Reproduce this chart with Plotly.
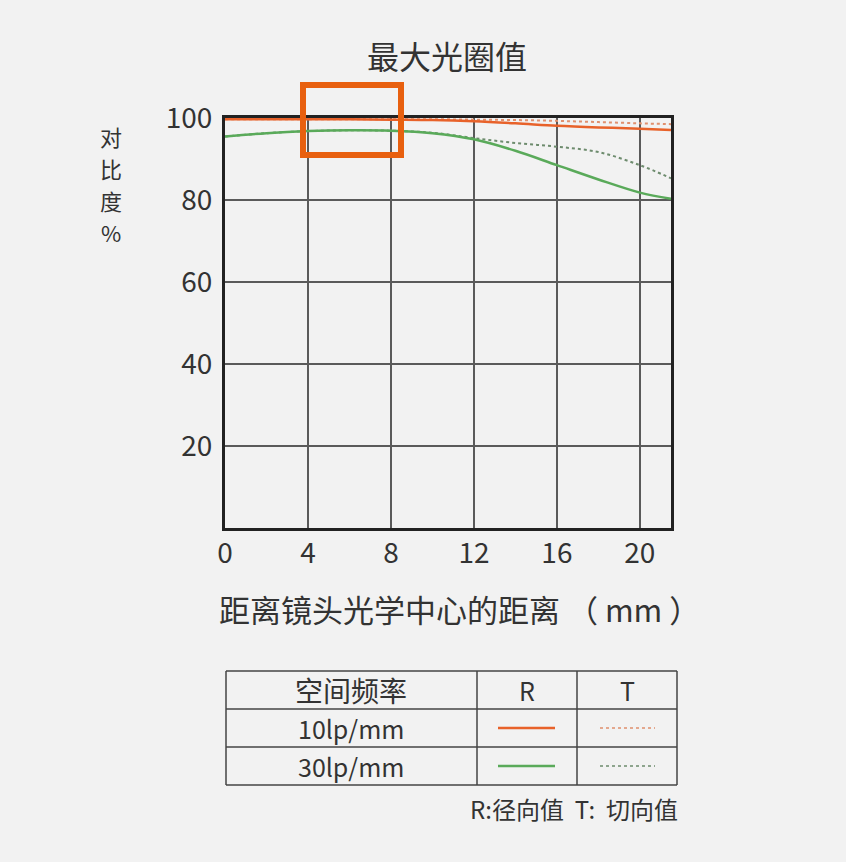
import plotly.graph_objects as go

# ---- data ----
radius_mm = [0, 2, 4, 6, 8, 10, 12, 14, 16, 18, 20, 21.5]
r10 = [99.7, 99.7, 99.7, 99.7, 99.6, 99.5, 99.2, 98.7, 98.1, 97.7, 97.4, 97.1]
t10 = [99.7, 99.7, 99.7, 99.7, 99.7, 99.7, 99.6, 99.5, 99.3, 99.0, 98.7, 98.5]
r30 = [95.5, 96.3, 96.8, 97.0, 96.9, 96.3, 94.8, 92.0, 88.5, 85.0, 81.8, 80.3]
t30 = [95.5, 96.3, 96.8, 97.0, 96.9, 96.4, 95.1, 93.9, 93.0, 91.7, 88.5, 85.3]

x_ticks = [0, 4, 8, 12, 16, 20]
y_ticks = [20, 40, 60, 80, 100]

title_text = "最大光圈值"
x_title = "距离镜头光学中心的距离 （ mm ）"
y_title_chars = ["对", "比", "度", "%"]
legend_header = ["空间频率", "R", "T"]
legend_rows = ["10lp/mm", "30lp/mm"]
legend_note = "R:径向值  T:  切向值"

ORANGE = "#e8622a"
ORANGE_DOT = "#e0906e"
GREEN = "#5aaa5a"
GREEN_DOT = "#6e8c6e"
BG = "#f2f2f2"
TXT = "#333333"
FONT = "Noto Sans CJK SC"

W, H = 846, 862
L, R, T, B = 225, 671, 118, 528


def px(xp):
    return (xp - L) / (R - L)


def py(yp):
    return (B - yp) / (B - T)


def label(text, xp, yp, size, xanchor="center", **kw):
    return dict(text=text, x=px(xp), y=py(yp), xref="paper", yref="paper", showarrow=False,
                xanchor=xanchor, yanchor="middle", font=dict(size=size, color=TXT, family=FONT), **kw)


fig = go.Figure()
fig.add_trace(go.Scatter(x=radius_mm, y=t10, mode="lines", line=dict(color=ORANGE_DOT, width=2, dash="dot", shape="spline")))
fig.add_trace(go.Scatter(x=radius_mm, y=r10, mode="lines", line=dict(color=ORANGE, width=2.5, shape="spline")))
fig.add_trace(go.Scatter(x=radius_mm, y=t30, mode="lines", line=dict(color=GREEN_DOT, width=2, dash="dot", shape="spline")))
fig.add_trace(go.Scatter(x=radius_mm, y=r30, mode="lines", line=dict(color=GREEN, width=2.5, shape="spline")))

shapes = []
# highlight box
shapes.append(dict(type="rect", xref="paper", yref="paper", x0=px(303), x1=px(401), y0=py(155), y1=py(85),
                   line=dict(color="#e8600f", width=6), layer="above"))

# legend table
tcol = "#444444"
for yy in [671, 709, 747, 785]:
    shapes.append(dict(type="line", xref="paper", yref="paper", x0=px(226), x1=px(677), y0=py(yy), y1=py(yy),
                       line=dict(color=tcol, width=1.5)))
for xx in [226, 477, 577, 677]:
    shapes.append(dict(type="line", xref="paper", yref="paper", x0=px(xx), x1=px(xx), y0=py(671), y1=py(785),
                       line=dict(color=tcol, width=1.5)))
# legend samples
for yy, c, cd in [(728, ORANGE, ORANGE_DOT), (766, GREEN, GREEN_DOT)]:
    shapes.append(dict(type="line", xref="paper", yref="paper", x0=px(498), x1=px(555), y0=py(yy), y1=py(yy),
                       line=dict(color=c, width=2.5)))
    shapes.append(dict(type="line", xref="paper", yref="paper", x0=px(600), x1=px(655), y0=py(yy), y1=py(yy),
                       line=dict(color=cd, width=1.5, dash="dot")))

annotations = [
    label(title_text, 447, 55, 32),
    label(x_title, 459, 608, 31),
    label(legend_header[0], 351, 690, 28),
    label(legend_header[1], 527, 690, 25),
    label(legend_header[2], 627, 690, 25),
    label(legend_rows[0], 351, 728, 25),
    label(legend_rows[1], 351, 766, 25),
    label(legend_note, 680, 808, 24, xanchor="right"),
]
for ch, yy in zip(y_title_chars, [136, 168, 200, 232]):
    annotations.append(label(ch, 111, yy, 22))

fig.update_layout(
    width=W, height=H,
    margin=dict(l=L, r=W - R, t=T, b=H - B, pad=0),
    paper_bgcolor=BG, plot_bgcolor=BG,
    showlegend=False,
    shapes=shapes,
    annotations=annotations,
    font=dict(family=FONT, color=TXT),
)
fig.update_xaxes(range=[0, 21.5], tickvals=x_ticks, ticktext=[str(v) for v in x_ticks],
                 showgrid=True, gridcolor="#5a5a5a", gridwidth=1.5, zeroline=False,
                 showline=True, linecolor="#222222", linewidth=3, mirror=True,
                 ticks="", ticklabelstandoff=-2, tickfont=dict(size=28, color=TXT, family=FONT))
fig.update_yaxes(range=[0, 100], tickvals=y_ticks, ticktext=[str(v) for v in y_ticks],
                 showgrid=True, gridcolor="#5a5a5a", gridwidth=1.5, zeroline=False,
                 showline=True, linecolor="#222222", linewidth=3, mirror=True,
                 ticks="", ticklabelstandoff=4, tickfont=dict(size=28, color=TXT, family=FONT))

fig.write_html("out.html", config={"displayModeBar": False},
               post_script="document.body.style.margin='0';document.body.style.background='#f2f2f2';")
